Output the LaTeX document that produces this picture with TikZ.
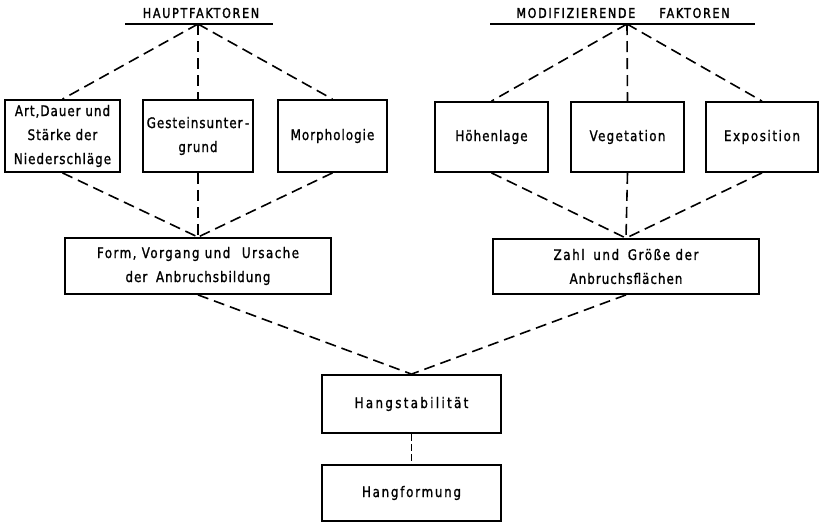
\documentclass[tikz,border=0pt]{standalone}
\usepackage{fontspec}
\setmainfont{DejaVu Sans}[FakeStretch=0.82,FakeBold=1.2,LetterSpace=7]
\newcommand\lsp[1]{\addfontfeature{LetterSpace=#1}}
\begin{document}
\begin{tikzpicture}[x=1pt,y=-1pt,
  box/.style={draw,line width=1.8pt,rectangle,inner sep=0pt,align=center,
    font=\fontsize{14.5}{24}\selectfont},
  title/.style={inner sep=0pt,font=\fontsize{13.5}{16}\selectfont\addfontfeature{LetterSpace=13,FakeBold=2}},
  link/.style={line width=1.6pt,dash pattern=on 11pt off 6pt}]
\useasboundingbox (0,0) rectangle (820,523);
% titles
\node[title] (th) at (201,13) {HAUPTFAKTOREN};
\node[title] (tm) at (623,13) {MODIFIZIERENDE\hspace{1.8em}FAKTOREN};
\coordinate (ha) at (198,24);
\coordinate (ma) at (627,24);
\draw[line width=1.5pt] (125,24) -- (273,24);
\draw[line width=1.5pt] (490,24) -- (755,24);
% factor boxes
\node[box,minimum width=115,minimum height=72] (b1) at (62.5,136) {Art,Dauer und\\Stärke der\\Niederschläge};
\node[box,minimum width=110,minimum height=72] (b2) at (198,136) {Gesteinsunter\,-\\grund};
\node[box,minimum width=109,minimum height=72] (b3) at (332.5,136) {Morphologie};
\node[box,minimum width=113,minimum height=70] (b4) at (491.5,137) {Höhenlage};
\node[box,minimum width=113,minimum height=70] (b5) at (627.5,137) {\lsp{9}Vegetation};
\node[box,minimum width=112,minimum height=70] (b6) at (762,137) {\lsp{11}Exposition};
% middle boxes
\node[box,minimum width=266,minimum height=56] (fo) at (198,266) {\lsp{10}Form, Vorgang und\hspace{0.8em}Ursache\\der\hspace{0.6em}Anbruchsbildung};
\node[box,minimum width=266,minimum height=55] (za) at (626,266.5) {\lsp{11}Zahl\hspace{0.6em}und\hspace{0.6em}Größe der\\Anbruchsflächen};
% bottom boxes
\node[box,minimum width=179,minimum height=58] (hs) at (411.5,404) {\lsp{16}Hangstabilität};
\node[box,minimum width=179,minimum height=56] (hf) at (411.5,493) {\lsp{12}Hangformung};
% connectors
\foreach \b in {b1,b2,b3} {
  \draw[link] (ha) -- (\b.north);
  \draw[link] (\b.south) -- (fo.north);
}
\foreach \b in {b4,b5,b6} {
  \draw[link] (ma) -- (\b.north);
  \draw[link] (\b.south) -- (za.north);
}
\draw[link] (fo.south) -- (hs.north);
\draw[link] (za.south) -- (hs.north);
\draw[link,dash pattern=on 7pt off 3pt] (hs.south) -- (hf.north);
\end{tikzpicture}
\end{document}
